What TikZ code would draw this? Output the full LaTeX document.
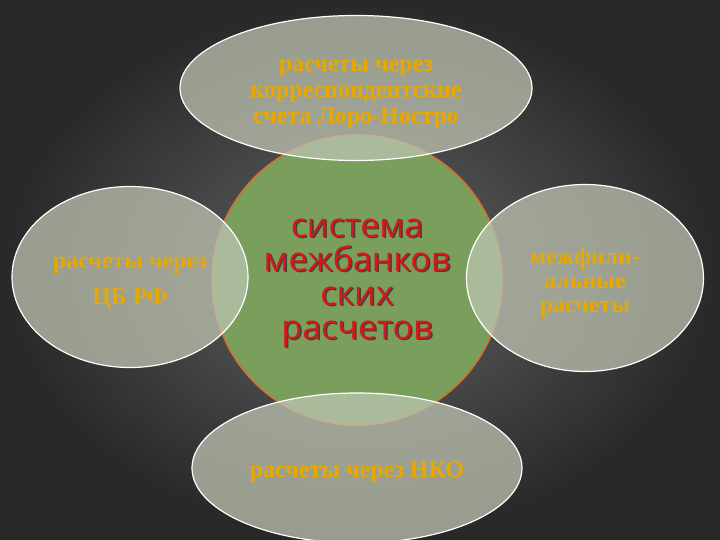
\documentclass[tikz,border=0pt]{standalone}
\usepackage{fontspec}
\setmainfont{Liberation Serif}
\newfontfamily\sysfont{Open Sans}
\usepackage{tikz}
\usetikzlibrary{shapes,positioning}
\usepackage{xcolor}
\definecolor{bginner}{RGB}{100,100,100}
\definecolor{bgouter}{RGB}{40,40,40}
\definecolor{sysgreen}{RGB}{122,158,92}
\definecolor{sysrim}{RGB}{214,112,48}
\definecolor{ovalgray}{RGB}{190,196,178}
\definecolor{txtgold}{RGB}{232,168,0}
\definecolor{txtred}{RGB}{214,24,24}
\tikzstyle{oval} = [ellipse, draw=white, line width=1.2pt, fill=ovalgray, fill opacity=0.75]
\tikzstyle{ovaltext} = [align=center, text=txtgold, font=\bfseries\fontsize{24}{26}\selectfont]

\begin{document}
\begin{tikzpicture}[x=1pt, y=-1pt]
    % background
    \useasboundingbox (0,0) rectangle (720,540);
    \shade[inner color=bginner, outer color=bgouter] (0,0) rectangle (720,540);

    % centre
    \node[circle, draw=sysrim, line width=1.5pt, fill=sysgreen, minimum size=290pt] (sys) at (357,280) {};
    \node[text=black!75, align=center, font=\sysfont\fontsize{34}{34}\selectfont] (sysshadow) at (358.5,284.5) {система\\межбанков\\ских\\расчетов};
    \node[text=txtred, align=center, font=\sysfont\fontsize{34}{34}\selectfont] (systext) at (357,283) {система\\межбанков\\ских\\расчетов};

    % top
    \node[oval, minimum width=352pt, minimum height=145pt] (loro) at (356,88) {};
    \node[ovaltext] (lorotext) at (356,94) {расчеты через\\корреспондентские\\счета Лоро-Ностро};

    % left
    \node[oval, minimum width=236pt, minimum height=181pt] (cb) at (130,277) {};
    \node[ovaltext, font=\bfseries\fontsize{24}{36}\selectfont] (cbtext) at (130,283) {расчеты через\\ЦБ РФ};

    % right
    \node[oval, minimum width=237pt, minimum height=187pt] (filial) at (585,278) {};
    \node[ovaltext, font=\bfseries\fontsize{24}{24}\selectfont] (filialtext) at (585,283) {межфили-\\альные\\расчеты};

    % bottom
    \node[oval, minimum width=330pt, minimum height=150pt] (nko) at (357,468) {};
    \node[ovaltext] (nkotext) at (357,472) {расчеты через НКО};
\end{tikzpicture}
\end{document}
